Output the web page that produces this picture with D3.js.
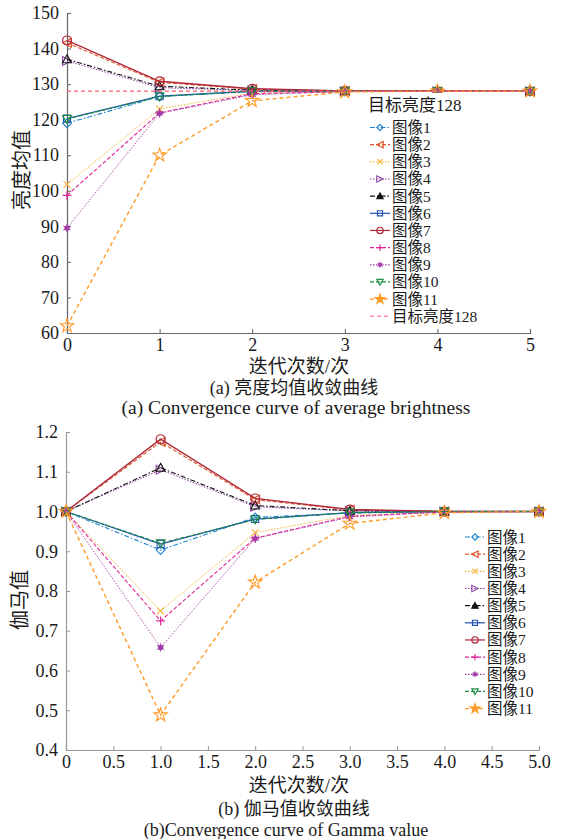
<!DOCTYPE html>
<html>
<head>
<meta charset="utf-8">
<script src="https://cdn.jsdelivr.net/npm/d3@7/dist/d3.min.js"></script>
<style>
  html, body { margin: 0; padding: 0; background: #fff; }
  svg { display: block; }
  svg text { fill: #1a1a1a; }
</style>
</head>
<body>
<svg id="chart" width="564" height="839"></svg>
<script>
// ---- data ----
const iterations = [0, 1, 2, 3, 4, 5];
const seriesNames = ["图像1","图像2","图像3","图像4","图像5","图像6","图像7","图像8","图像9","图像10","图像11"];

// mean brightness per iteration
const bright1  = [119.0, 126.5, 127.9, 128.0, 128.0, 128.0];
const bright2  = [141.6, 130.5, 128.6, 128.1, 128.0, 128.0];
const bright3  = [101.8, 123.0, 127.5, 127.9, 128.0, 128.0];
const bright4  = [136.5, 129.0, 128.2, 128.0, 128.0, 128.0];
const bright5  = [137.0, 129.4, 128.3, 128.0, 128.0, 128.0];
const bright6  = [120.3, 126.6, 128.0, 128.0, 128.0, 128.0];
const bright7  = [142.3, 130.8, 128.7, 128.1, 128.0, 128.0];
const bright8  = [98.7, 121.9, 127.3, 127.9, 128.0, 128.0];
const bright9  = [89.5, 121.8, 127.0, 127.9, 128.0, 128.0];
const bright10 = [120.2, 126.5, 128.0, 128.0, 128.0, 128.0];
const bright11 = [62.0, 110.0, 125.3, 127.8, 128.0, 128.0];
const targetBrightness = 128;
const targetLabel = "目标亮度128";

// gamma per iteration
const gamma1  = [1.000, 0.903, 0.985, 0.996, 1.000, 1.000];
const gamma2  = [1.000, 1.175, 1.030, 1.004, 1.000, 1.000];
const gamma3  = [1.000, 0.750, 0.947, 0.990, 0.999, 1.000];
const gamma4  = [1.000, 1.105, 1.012, 1.001, 1.000, 1.000];
const gamma5  = [1.000, 1.110, 1.015, 1.002, 1.000, 1.000];
const gamma6  = [1.000, 0.918, 0.981, 0.997, 1.000, 1.000];
const gamma7  = [1.000, 1.182, 1.033, 1.005, 1.000, 1.000];
const gamma8  = [1.000, 0.725, 0.933, 0.988, 0.999, 1.000];
const gamma9  = [1.000, 0.658, 0.932, 0.986, 0.999, 1.000];
const gamma10 = [1.000, 0.920, 0.980, 0.997, 1.000, 1.000];
const gamma11 = [1.000, 0.488, 0.822, 0.970, 0.997, 1.000];

// tick labels
const brightTicks = [60, 70, 80, 90, 100, 110, 120, 130, 140, 150];
const brightXTicks = ["0", "1", "2", "3", "4", "5"];
const gammaTicks = ["0.4","0.5","0.6","0.7","0.8","0.9","1.0","1.1","1.2"];
const gammaXTicks = ["0","0.5","1.0","1.5","2.0","2.5","3.0","3.5","4.0","4.5","5.0"];

const brightSeries = [bright1,bright2,bright3,bright4,bright5,bright6,bright7,bright8,bright9,bright10,bright11];
const gammaSeries  = [gamma1,gamma2,gamma3,gamma4,gamma5,gamma6,gamma7,gamma8,gamma9,gamma10,gamma11];

// ---- styles per series ----
const styles = [
  { color: "#1f86d0", dash: "5,2,1.5,2", marker: "diamond", width: 1.1 },
  { color: "#e0552a", dash: "4,2",       marker: "left",    width: 1.1 },
  { color: "#f4b43a", dash: "1.5,1.5",   marker: "x",       width: 1.0 },
  { color: "#8a3fa0", dash: "1.5,1.5",   marker: "right",   width: 1.0 },
  { color: "#111111", dash: "5,2,1.5,2", marker: "up",      width: 1.1 },
  { color: "#2052b0", dash: null,        marker: "square",  width: 1.3 },
  { color: "#b0283a", dash: null,        marker: "circle",  width: 1.4 },
  { color: "#e0259a", dash: "4,2",       marker: "plus",    width: 1.1 },
  { color: "#a33aa8", dash: "1.5,1.5",   marker: "star6",   width: 0.9 },
  { color: "#1d8c40", dash: "4,2",       marker: "down",    width: 1.1 },
  { color: "#ff9a26", dash: "4,3",       marker: "star5",   width: 1.4 }
];
const targetColor = "#ff5a6e";
const fontStack = "'Liberation Serif', 'Times New Roman', 'Noto Sans CJK SC', serif";

const svg = d3.select("#chart").style("font-family", fontStack);

function label(g, x, y, size, str) {
  return g.append("text").attr("x", x).attr("y", y).attr("font-size", size)
    .style("font-family", fontStack).text(str);
}

function drawMarker(g, type, x, y, color, filled, scale) {
  const k = scale || 1;
  const s = 4 * k;
  const fill = filled ? color : "none";
  const m = g.append("g").attr("transform", `translate(${x},${y})`);
  const poly = (pts) => m.append("path").attr("d", "M" + pts.map(p => p.join(",")).join("L") + "Z")
      .attr("fill", fill).attr("stroke", color).attr("stroke-width", 1.1);
  switch (type) {
    case "diamond": poly([[0,-s],[s,0],[0,s],[-s,0]]); break;
    case "left":    poly([[-s,0],[s,-s],[s,s]]); break;
    case "right":   poly([[s,0],[-s,-s],[-s,s]]); break;
    case "up":      poly([[0,-s],[s,s*0.8],[-s,s*0.8]]); break;
    case "down":    poly([[0,s],[s,-s*0.8],[-s,-s*0.8]]); break;
    case "square":  poly([[-s*0.8,-s*0.8],[s*0.8,-s*0.8],[s*0.8,s*0.8],[-s*0.8,s*0.8]]); break;
    case "circle":
      m.append("circle").attr("r", s).attr("fill", fill).attr("stroke", color).attr("stroke-width", 1.2); break;
    case "x":
      m.append("path").attr("d", `M${-s*0.8},${-s*0.8}L${s*0.8},${s*0.8}M${-s*0.8},${s*0.8}L${s*0.8},${-s*0.8}`)
        .attr("stroke", color).attr("stroke-width", 1.1); break;
    case "plus":
      m.append("path").attr("d", `M${-s},0L${s},0M0,${-s}L0,${s}`)
        .attr("stroke", color).attr("stroke-width", 1.2); break;
    case "star6":
      m.append("circle").attr("r", 2.4 * k).attr("fill", color);
      m.append("path").attr("d", d3.symbol(d3.symbolAsterisk, 40 * k * k)())
        .attr("stroke", color).attr("stroke-width", 1).attr("fill", "none"); break;
    case "star5":
      m.append("path").attr("d", d3.symbol(d3.symbolStar, 46 * k * k)())
        .attr("fill", fill).attr("stroke", color).attr("stroke-width", 1.1); break;
  }
}

function panel(cfg) {
  const g = svg.append("g");
  const x = d3.scaleLinear().domain([0, 5]).range([cfg.left, cfg.right]);
  const y = d3.scaleLinear().domain(cfg.yDomain).range([cfg.bottom, cfg.top]);

  // axes with inward ticks
  const xAxis = d3.axisBottom(x).tickValues(cfg.xTickVals).tickSize(-4).tickPadding(8)
    .tickFormat((d, i) => cfg.xTickLabels[i]);
  const yAxis = d3.axisLeft(y).tickValues(cfg.yTickVals).tickSize(-4).tickPadding(8)
    .tickFormat((d, i) => cfg.yTickLabels[i]);

  const gx = g.append("g").attr("transform", `translate(0,${cfg.bottom})`).call(xAxis);
  const gy = g.append("g").attr("transform", `translate(${cfg.left},0)`).call(yAxis);
  [gx, gy].forEach(a => {
    a.attr("font-family", null).attr("font-size", null);
    a.select(".domain").attr("stroke", cfg.axisColor).attr("stroke-width", 1.2);
    a.selectAll(".tick line").attr("stroke", cfg.axisColor).attr("stroke-width", 1);
    a.selectAll(".tick text").attr("font-size", 18).attr("fill", "#222")
      .style("font-family", fontStack);
  });
  gx.selectAll(".tick text").attr("dy", "0.55em");

  const line = d3.line().x((d, i) => x(iterations[i])).y(d => y(d));

  cfg.series.forEach((vals, k) => {
    const st = styles[k];
    g.append("path").datum(vals).attr("d", line)
      .attr("fill", "none").attr("stroke", st.color).attr("stroke-width", st.width)
      .attr("stroke-dasharray", st.dash);
    vals.forEach((v, i) => drawMarker(g, st.marker, x(iterations[i]), y(v), st.color, false, 1.1));
  });

  if (cfg.target != null) {
    g.append("line").attr("x1", x(0)).attr("x2", x(5))
      .attr("y1", y(cfg.target)).attr("y2", y(cfg.target))
      .attr("stroke", targetColor).attr("stroke-width", 1.2).attr("stroke-dasharray", "4,3");
  }

  // axis titles and captions
  label(g, cfg.yLabelX, cfg.yLabelY, 20, cfg.yLabel)
    .attr("transform", `rotate(-90,${cfg.yLabelX},${cfg.yLabelY})`)
    .attr("text-anchor", "middle").attr("dominant-baseline", "central");
  label(g, 299, cfg.xLabelY, 19, "迭代次数/次")
    .attr("text-anchor", "middle").attr("dominant-baseline", "central");
  label(g, 294, cfg.cap1Base, 18, cfg.cap1).attr("text-anchor", "middle");
  label(g, cfg.cap2X, cfg.cap2Base, cfg.cap2Size, cfg.cap2).attr("text-anchor", "middle");

  // legend
  const lg = g.append("g");
  let ly = cfg.legendY;
  if (cfg.legendTitle) {
    lg.append("rect").attr("x", cfg.legendX - 4).attr("y", ly - 12).attr("width", 122)
      .attr("height", 232).attr("fill", "#fff");
    label(lg, cfg.legendX - 2, ly, 17, cfg.legendTitle).attr("dominant-baseline", "central");
    ly += 22.5;
  }
  const step = 17.16;
  seriesNames.forEach((name, k) => {
    const st = styles[k];
    const yy = ly + k * step;
    lg.append("line").attr("x1", cfg.legendX).attr("x2", cfg.legendX + 20).attr("y1", yy).attr("y2", yy)
      .attr("stroke", st.color).attr("stroke-width", 1.2).attr("stroke-dasharray", st.dash);
    drawMarker(lg, st.marker, cfg.legendX + 10, yy, st.color,
      st.marker === "up" || st.marker === "star5" || st.marker === "star6", 0.8);
    label(lg, cfg.legendX + 22, yy, 15.5, name).attr("dominant-baseline", "central");
  });
  if (cfg.target != null) {
    const yy = ly + seriesNames.length * step;
    lg.append("line").attr("x1", cfg.legendX).attr("x2", cfg.legendX + 20).attr("y1", yy).attr("y2", yy)
      .attr("stroke", targetColor).attr("stroke-width", 1.2).attr("stroke-dasharray", "4,3");
    label(lg, cfg.legendX + 22, yy, 15.5, targetLabel).attr("dominant-baseline", "central");
  }
}

// (a) mean brightness
panel({
  left: 67, right: 530, top: 13, bottom: 333,
  yDomain: [60, 150],
  xTickVals: iterations, xTickLabels: brightXTicks,
  yTickVals: brightTicks, yTickLabels: brightTicks.map(String),
  axisColor: "#666",
  series: brightSeries, target: targetBrightness,
  yLabel: "亮度均值", yLabelX: 22, yLabelY: 170,
  xLabelY: 366, cap1: "(a) 亮度均值收敛曲线", cap1Base: 394,
  cap2: "(a) Convergence curve of average brightness", cap2X: 296, cap2Base: 414, cap2Size: 19.5,
  legendX: 370, legendY: 105, legendTitle: targetLabel
});

// (b) gamma value
panel({
  left: 66, right: 539, top: 432, bottom: 750,
  yDomain: [0.4, 1.2],
  xTickVals: d3.range(0, 5.01, 0.5), xTickLabels: gammaXTicks,
  yTickVals: gammaTicks.map(Number), yTickLabels: gammaTicks,
  axisColor: "#999",
  series: gammaSeries, target: null,
  yLabel: "伽马值", yLabelX: 20, yLabelY: 600,
  xLabelY: 785, cap1: "(b) 伽马值收敛曲线", cap1Base: 814.5,
  cap2: "(b)Convergence curve of Gamma value", cap2X: 286, cap2Base: 835.5, cap2Size: 18,
  legendX: 465, legendY: 537, legendTitle: null
});
</script>
</body>
</html>
